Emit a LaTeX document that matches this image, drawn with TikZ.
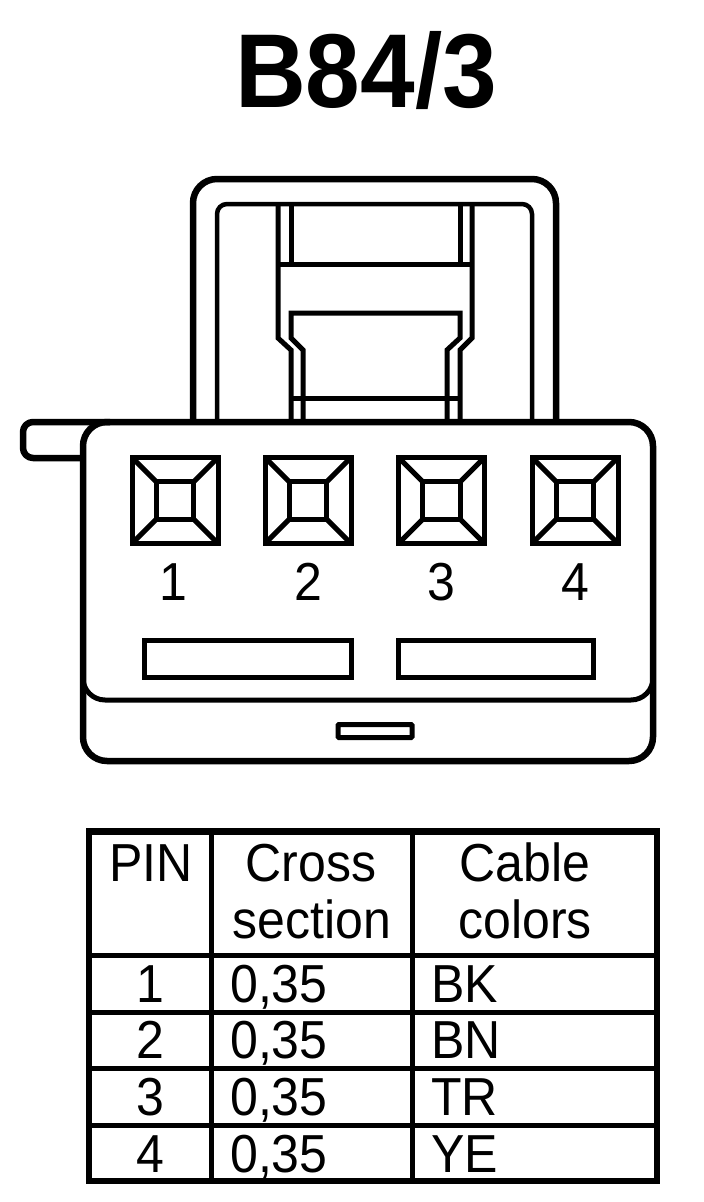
\documentclass[tikz,border=0pt]{standalone}
\usepackage{fontspec}
\setmainfont[FakeStretch=0.935]{Liberation Sans}
\usetikzlibrary{calc}

\begin{document}
\begin{tikzpicture}[
    x=1pt, y=-1pt,
    thickline/.style={
        line width=6.5pt,
        line join=round
    },
    midline/.style={
        line width=5pt,
        line join=miter
    },
    pinbox/.style={
        rectangle,
        draw=black,
        line width=5pt,
        inner sep=0pt,
        outer sep=0pt,
        minimum size=86pt
    },
    pincore/.style={
        pinbox,
        minimum size=37.5pt
    },
    slotbox/.style={
        rectangle,
        draw=black,
        line width=5pt,
        inner sep=0pt,
        outer sep=0pt
    },
    label/.style={
        inner sep=0pt,
        font=\fontsize{53.5}{56}\selectfont,
        anchor=base
    },
    cell/.style={
        label,
        anchor=base west
    }
]
\useasboundingbox (0,0) rectangle (704,1202);
% --- title ---
\node[label, font=\fontsize{105}{106}\selectfont\bfseries] (title) at (366,107) {B84/3};
% --- upper frame ---
\draw[thickline, rounded corners=24pt] (193,421) -- (193,179) -- (556,179) -- (556,421);
\draw[line width=4.5pt, rounded corners=10pt] (217,421) -- (217,204) -- (532,204) -- (532,421);
% --- latch ---
\draw[midline] (278,204) -- (278,338) -- (291,350) -- (291,421);
\draw[midline] (472,204) -- (472,338) -- (460,350) -- (460,421);
\draw[midline] (291,204) -- (291,264);
\draw[midline] (460,204) -- (460,264);
\draw[midline] (278,264) -- (472,264);
\draw[midline] (303,421) -- (303,350) -- (291,338) -- (291,313)
    -- (460,313) -- (460,338) -- (447,350) -- (447,421);
\draw[midline] (291,398) -- (460,398);
% --- housing ---
\draw[thickline, rounded corners=10pt] (83,458) -- (23,458) -- (23,422) -- (110,422);
\draw[thickline, rounded corners=24pt] (83,761) rectangle (653,422);
\draw[midline, rounded corners=22pt] (83,675) -- (83,700) -- (653,700) -- (653,675);
% --- pins ---
\foreach \n/\x/\tx in {1/175/173, 2/308/308, 3/441.5/441, 4/575/575} {
    \node[pinbox] (pin\n) at (\x,500.5) {};
    \node[pincore] (core\n) at (\x,500.5) {};
    \foreach \c in {north west, north east, south west, south east}
        \draw[line width=5pt] (pin\n.\c) -- (core\n.\c);
    \node[label] (num\n) at (\tx,600) {\n};
}
% --- slots ---
\node[slotbox, minimum width=207pt, minimum height=37pt] (slotA) at (247.5,658.5) {};
\node[slotbox, minimum width=195pt, minimum height=37pt] (slotB) at (495.5,658.5) {};
\node[slotbox, minimum width=74pt, minimum height=13pt, rounded corners=1pt] (notch) at (375,731) {};
% --- table ---
\node[rectangle, draw=black, line width=6.5pt, inner sep=0pt, outer sep=0pt,
    minimum width=568pt, minimum height=349.5pt] (tbl) at (373,1006.25) {};
\draw[midline] (211,831) -- (211,1181);
\draw[midline] (412.5,831) -- (412.5,1181);
\foreach \y in {955.5,1012,1068.5,1125}
    \draw[midline] (89,\y) -- (657,\y);
\node[label] (headA) at (151,881) {PIN};
\node[label] (headB) at (311,881) {Cross};
\node[label] (headC) at (312,938) {section};
\node[label] (headD) at (525,881) {Cable};
\node[label] (headE) at (525,938) {colors};
\foreach \n/\y/\col in {1/1002/BK, 2/1058.5/BN, 3/1115/TR, 4/1172/YE} {
    \node[label] (rowpin\n) at (150,\y) {\n};
    \node[cell] (rowsec\n) at (230,\y) {0,35};
    \node[cell] (rowcol\n) at (431,\y) {\col};
}
\end{tikzpicture}
\end{document}
